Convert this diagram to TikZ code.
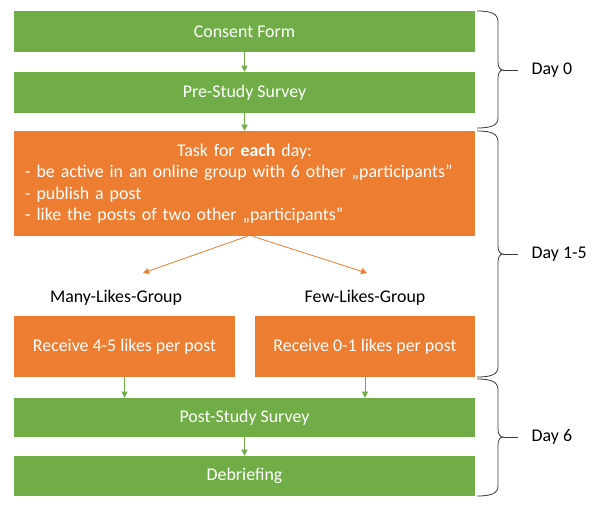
\documentclass[tikz,border=0pt]{standalone}
\usepackage{fontspec}
\setmainfont{Carlito}
\usetikzlibrary{arrows.meta}

\definecolor{stepgreen}{HTML}{70AD47}
\definecolor{steporange}{HTML}{ED7D31}
\definecolor{bracegray}{HTML}{3A3A3A}

\begin{document}
\begin{tikzpicture}[x=0.75pt,y=-0.75pt,
    font=\fontsize{13.4}{16}\selectfont,
    >={Triangle[length=4.5pt,width=4.5pt]},
    fullbox/.style={minimum width=345.75pt, inner sep=0pt, text=white},
    greenbox/.style={fullbox, fill=stepgreen, minimum height=30.75pt},
    orangebox/.style={fill=steporange, text=white, inner sep=0pt, minimum height=45.75pt},
    greenarrow/.style={->, draw=stepgreen, line width=0.75pt},
    orangearrow/.style={->, draw=steporange, line width=0.6pt},
    daybrace/.style={draw=bracegray, line width=0.6pt}]
    \useasboundingbox[fill=white] (0,0) rectangle (598,507);

    % Day 0
    \node[greenbox] (consent) at (244.5,31.5) {Consent Form};
    \node[greenbox] (prestudy) at (244.5,92.5) {Pre-Study Survey};

    % Day 1-5
    \node[fullbox, fill=steporange, minimum height=78.75pt, text width=329pt,
          inner xsep=8.375pt, align=left] (task) at (244.5,183.5)
        {\makebox[\linewidth]{Task for \textbf{each} day:}\\
         - be active in an online group with 6 other „participants”\\
         - publish a post\\
         - like the posts of two other „participants”};
    \coordinate (manytip) at (143,273);
    \coordinate (fewtip) at (367,273);
    \node (manylabel) at (116,298) {Many-Likes-Group};
    \node (fewlabel) at (365,298) {Few-Likes-Group};
    \node[orangebox, minimum width=165.75pt] (manybox) at (124.5,346.5) {Receive 4-5 likes per post};
    \node[orangebox, minimum width=165pt] (fewbox) at (365,346.5) {Receive 0-1 likes per post};

    % Day 6
    \node[greenbox, minimum height=29.25pt] (poststudy) at (244.5,417.5) {Post-Study Survey};
    \node[greenbox, minimum height=30pt] (debriefing) at (244.5,476) {Debriefing};

    % arrows
    \draw[greenarrow] (consent) -- (prestudy);
    \draw[greenarrow] (prestudy) -- (task);
    \draw[orangearrow] ([xshift=2pt]task.south) -- (manytip);
    \draw[orangearrow] ([xshift=6pt]task.south) -- (fewtip);
    \draw[greenarrow] (manybox.south) -- (manybox.south |- poststudy.north);
    \draw[greenarrow] (fewbox.south) -- (fewbox.south |- poststudy.north);
    \draw[greenarrow] (poststudy) -- (debriefing);

    % braces
    \draw[daybrace] (477,11) .. controls (492,11) and (498,14) .. (498,22) -- (498,62)
        .. controls (498,67) and (500,70) .. (503,70)
        .. controls (500,70) and (498,73) .. (498,78) -- (498,118)
        .. controls (498,125) and (492,128) .. (477,128);
    \draw[daybrace] (503,70) -- (518,70);
    \node[anchor=west] (day0) at (527,70) {Day 0};

    \draw[daybrace] (477,131) .. controls (492,131) and (498,134) .. (498,142) -- (498,246)
        .. controls (498,251) and (500,254) .. (503,254)
        .. controls (500,254) and (498,257) .. (498,262) -- (498,367)
        .. controls (498,374) and (492,377) .. (477,377);
    \draw[daybrace] (503,254) -- (518,254);
    \node[anchor=west] (day15) at (527,254) {Day 1-5};

    \draw[daybrace] (477,379) .. controls (492,379) and (498,382) .. (498,390) -- (498,429)
        .. controls (498,434) and (500,437) .. (503,437)
        .. controls (500,437) and (498,440) .. (498,445) -- (498,486)
        .. controls (498,493) and (492,496) .. (477,496);
    \draw[daybrace] (503,437) -- (518,437);
    \node[anchor=west] (day6) at (527,437) {Day 6};
\end{tikzpicture}
\end{document}
